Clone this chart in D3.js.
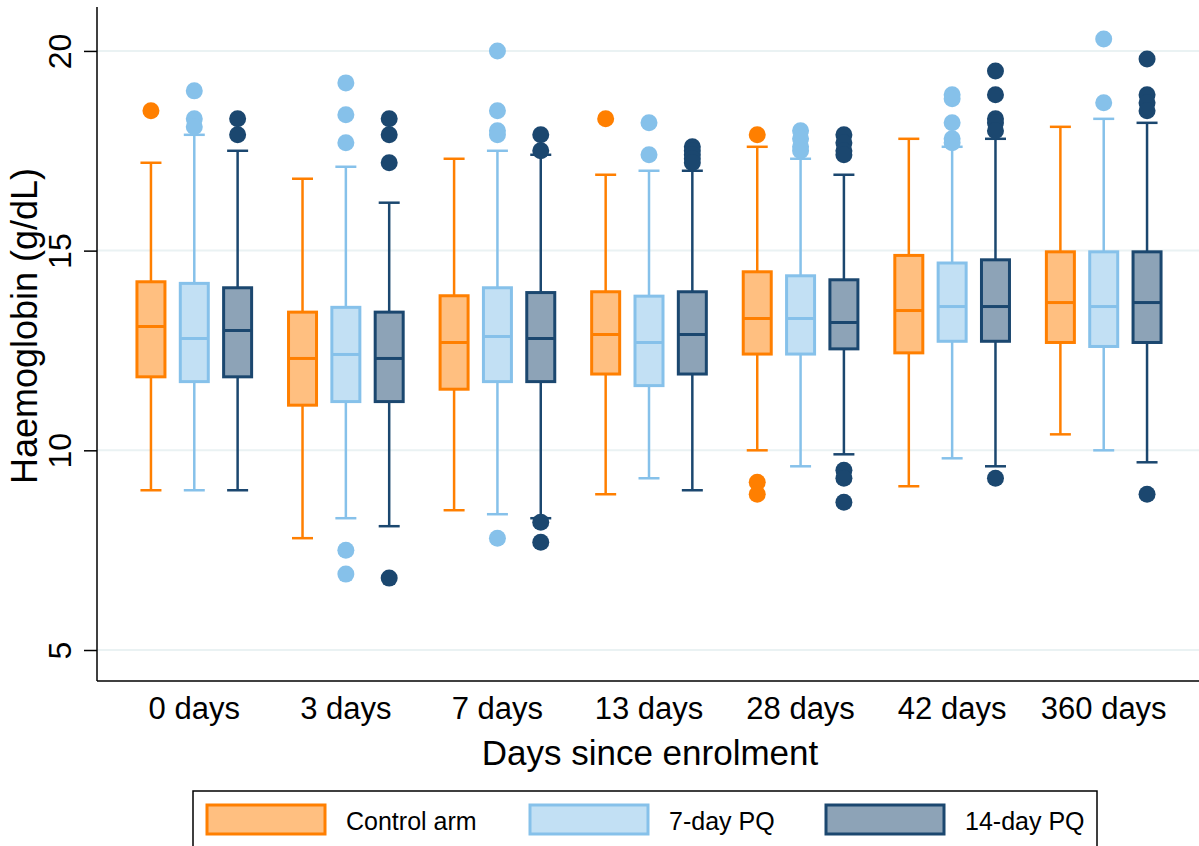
<!DOCTYPE html>
<html>
<head>
<meta charset="utf-8">
<script src="https://cdn.jsdelivr.net/npm/d3@7"></script>
<style>
  body { margin: 0; background: #fff; }
  text { font-family: "Liberation Sans", Arial, Helvetica, sans-serif; fill: #000; }
</style>
</head>
<body>
<script>
    var width = 1199,
        height = 846;

    // categories and series
    var categories = ["0 days", "3 days", "7 days", "13 days", "28 days", "42 days", "360 days"];
    var seriesNames = ["Control arm", "7-day PQ", "14-day PQ"];
    var strokeColors = ["#ff7f00", "#86c1ea", "#1b476f"];
    var fillColors = ["#ffbf80", "#c2e0f4", "#8da3b7"];
    var yTicks = [5, 10, 15, 20];

    // Control arm
    var controlLow    = [9.0, 7.8, 8.5, 8.9, 10.0, 9.1, 10.4];
    var controlQ1     = [11.84, 11.13, 11.53, 11.91, 12.41, 12.44, 12.70];
    var controlMedian = [13.1, 12.3, 12.7, 12.9, 13.3, 13.5, 13.7];
    var controlQ3     = [14.22, 13.46, 13.87, 13.97, 14.47, 14.88, 14.97];
    var controlHigh   = [17.2, 16.8, 17.3, 16.9, 17.6, 17.8, 18.1];
    var controlOut    = [[18.5], [], [], [18.3], [17.9, 9.2, 8.9], [], []];

    // 7-day PQ
    var pq7Low    = [9.0, 8.3, 8.4, 9.3, 9.6, 9.8, 10.0];
    var pq7Q1     = [11.72, 11.22, 11.72, 11.62, 12.41, 12.73, 12.60];
    var pq7Median = [12.8, 12.4, 12.85, 12.7, 13.3, 13.6, 13.6];
    var pq7Q3     = [14.18, 13.58, 14.07, 13.86, 14.37, 14.69, 14.97];
    var pq7High   = [17.9, 17.1, 17.5, 17.0, 17.3, 17.6, 18.3];
    var pq7Out    = [[19.0, 18.3, 18.1], [19.2, 18.4, 17.7, 7.5, 6.9], [20.0, 18.5, 18.0, 17.9, 7.8],
                     [18.2, 17.4], [18.0, 17.8, 17.6, 17.5], [18.9, 18.8, 18.2, 17.8, 17.7], [20.3, 18.7]];

    // 14-day PQ
    var pq14Low    = [9.0, 8.1, 8.3, 9.0, 9.9, 9.6, 9.7];
    var pq14Q1     = [11.84, 11.22, 11.72, 11.91, 12.54, 12.73, 12.70];
    var pq14Median = [13.0, 12.3, 12.8, 12.9, 13.2, 13.6, 13.7];
    var pq14Q3     = [14.07, 13.46, 13.95, 13.97, 14.27, 14.77, 14.97];
    var pq14High   = [17.5, 16.2, 17.4, 17.0, 16.9, 17.8, 18.2];
    var pq14Out    = [[18.3, 17.9], [18.3, 17.9, 17.2, 6.8], [17.9, 17.5, 8.2, 7.7],
                      [17.6, 17.5, 17.4, 17.3, 17.2], [17.9, 17.7, 17.5, 17.4, 9.5, 9.3, 8.7],
                      [19.5, 18.9, 18.3, 18.2, 18.0, 9.3], [19.8, 18.9, 18.7, 18.5, 8.9]];

    var stats = [
        [controlLow, controlQ1, controlMedian, controlQ3, controlHigh, controlOut],
        [pq7Low, pq7Q1, pq7Median, pq7Q3, pq7High, pq7Out],
        [pq14Low, pq14Q1, pq14Median, pq14Q3, pq14High, pq14Out]
    ];

    var boxes = [];
    seriesNames.forEach(function (s, si) {
        categories.forEach(function (c, ci) {
            boxes.push({
                cat: c, series: s, si: si,
                lo: stats[si][0][ci], q1: stats[si][1][ci], med: stats[si][2][ci],
                q3: stats[si][3][ci], hi: stats[si][4][ci], out: stats[si][5][ci]
            });
        });
    });

    var plotLeft = 97, plotRight = 1199, plotTop = 7, plotBottom = 681;

    var x = d3.scaleBand().domain(categories).range([118.5, 1179.5]).padding(0);
    var xs = d3.scaleBand().domain(seriesNames).range([-65, 65]).padding(0);
    var y = d3.scaleLinear().domain([4.224, 21.1]).range([plotBottom, plotTop]);

    var boxW = 28, capW = 21;

    var svg = d3.select("body").append("svg")
        .attr("width", width)
        .attr("height", height);

    // gridlines
    svg.append("g").selectAll("line")
        .data(yTicks)
        .enter().append("line")
        .attr("x1", plotLeft).attr("x2", plotRight)
        .attr("y1", function (d) { return y(d); })
        .attr("y2", function (d) { return y(d); })
        .style("stroke", "#eaf2f3")
        .style("stroke-width", 2);

    // y axis
    var yAxis = svg.append("g")
        .attr("transform", "translate(" + plotLeft + ",0)")
        .call(d3.axisLeft(y).tickValues(yTicks).tickSize(13).tickFormat(d3.format("d")));
    yAxis.select(".domain").remove();
    yAxis.selectAll(".tick line").style("stroke", "#000").style("stroke-width", 1.5);
    yAxis.selectAll(".tick text")
        .attr("x", null).attr("dy", null)
        .attr("transform", "translate(-26,0) rotate(-90)")
        .attr("text-anchor", "middle")
        .style("font-size", "32px");
    yAxis.attr("font-family", null).attr("font-size", null);

    // axis lines
    svg.append("line")
        .attr("x1", plotLeft).attr("x2", plotLeft)
        .attr("y1", plotTop).attr("y2", plotBottom)
        .style("stroke", "#000").style("stroke-width", 1.5);
    svg.append("line")
        .attr("x1", plotLeft).attr("x2", plotRight)
        .attr("y1", plotBottom).attr("y2", plotBottom)
        .style("stroke", "#000").style("stroke-width", 1.5);

    // x labels
    var xAxis = svg.append("g")
        .attr("transform", "translate(0," + plotBottom + ")")
        .call(d3.axisBottom(x).tickSize(0));
    xAxis.select(".domain").remove();
    xAxis.attr("font-family", null).attr("font-size", null);
    xAxis.selectAll(".tick text")
        .attr("y", 38).attr("dy", null)
        .style("font-size", "31px");

    // axis titles
    svg.append("text")
        .attr("x", (plotLeft + plotRight) / 2 + 2)
        .attr("y", 765)
        .attr("text-anchor", "middle")
        .style("font-size", "35px")
        .text("Days since enrolment");

    svg.append("text")
        .attr("transform", "translate(37,326) rotate(-90)")
        .attr("text-anchor", "middle")
        .style("font-size", "36px")
        .text("Haemoglobin (g/dL)");

    // boxes
    var g = svg.append("g").selectAll(".box")
        .data(boxes)
        .enter().append("g")
        .attr("class", "box")
        .attr("transform", function (d) {
            return "translate(" + (x(d.cat) + x.bandwidth() / 2 + xs(d.series) + xs.bandwidth() / 2) + ",0)";
        });

    g.append("line")
        .attr("y1", function (d) { return y(d.hi); })
        .attr("y2", function (d) { return y(d.q3); })
        .style("stroke", function (d) { return strokeColors[d.si]; })
        .style("stroke-width", 2.5);
    g.append("line")
        .attr("y1", function (d) { return y(d.q1); })
        .attr("y2", function (d) { return y(d.lo); })
        .style("stroke", function (d) { return strokeColors[d.si]; })
        .style("stroke-width", 2.5);
    g.append("line")
        .attr("x1", -capW / 2).attr("x2", capW / 2)
        .attr("y1", function (d) { return y(d.hi); })
        .attr("y2", function (d) { return y(d.hi); })
        .style("stroke", function (d) { return strokeColors[d.si]; })
        .style("stroke-width", 2.5);
    g.append("line")
        .attr("x1", -capW / 2).attr("x2", capW / 2)
        .attr("y1", function (d) { return y(d.lo); })
        .attr("y2", function (d) { return y(d.lo); })
        .style("stroke", function (d) { return strokeColors[d.si]; })
        .style("stroke-width", 2.5);

    g.append("rect")
        .attr("x", -boxW / 2)
        .attr("width", boxW)
        .attr("y", function (d) { return y(d.q3); })
        .attr("height", function (d) { return y(d.q1) - y(d.q3); })
        .style("fill", function (d) { return fillColors[d.si]; })
        .style("stroke", function (d) { return strokeColors[d.si]; })
        .style("stroke-width", 3);
    g.append("line")
        .attr("x1", -boxW / 2).attr("x2", boxW / 2)
        .attr("y1", function (d) { return y(d.med); })
        .attr("y2", function (d) { return y(d.med); })
        .style("stroke", function (d) { return strokeColors[d.si]; })
        .style("stroke-width", 3);

    g.selectAll("circle")
        .data(function (d) { return d.out.map(function (v) { return { v: v, si: d.si }; }); })
        .enter().append("circle")
        .attr("cx", 0)
        .attr("cy", function (d) { return y(d.v); })
        .attr("r", 8.5)
        .style("fill", function (d) { return strokeColors[d.si]; });

    // legend
    var legend = svg.append("g");
    legend.append("rect")
        .attr("x", 193).attr("y", 791)
        .attr("width", 904).attr("height", 70)
        .style("fill", "#fff")
        .style("stroke", "#000")
        .style("stroke-width", 1.5);

    var legendX = [207, 530, 826];
    var item = legend.selectAll(".item")
        .data(seriesNames)
        .enter().append("g")
        .attr("class", "item")
        .attr("transform", function (d, i) { return "translate(" + legendX[i] + ",805)"; });
    item.append("rect")
        .attr("width", 118).attr("height", 29)
        .style("fill", function (d, i) { return fillColors[i]; })
        .style("stroke", function (d, i) { return strokeColors[i]; })
        .style("stroke-width", 3);
    item.append("text")
        .attr("x", 139).attr("y", 25)
        .style("font-size", "25px")
        .text(function (d) { return d; });
</script>
</body>
</html>
